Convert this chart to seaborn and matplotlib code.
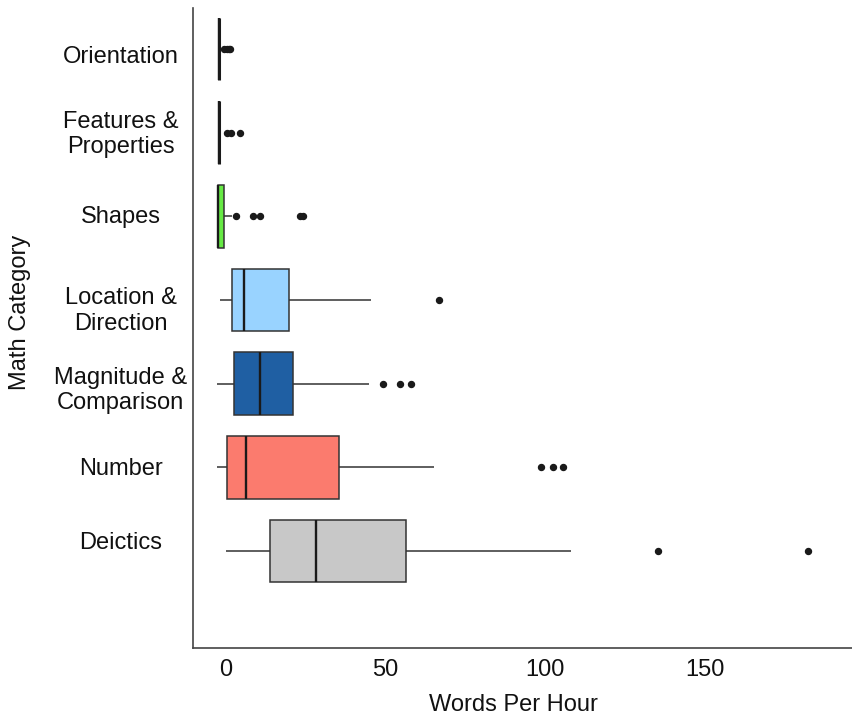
import numpy as np
import pandas as pd
import matplotlib.pyplot as plt
import seaborn as sns

# categories (top to bottom) and box colours
categories = ["Orientation", "Features &\nProperties", "Shapes", "Location &\nDirection",
              "Magnitude &\nComparison", "Number", "Deictics"]
colors = ["#222222", "#222222", "#66ea44", "#99d3ff", "#1f5fa3", "#fb7b6e", "#c8c8c8"]

# words per hour
orientation = [-2.0, -2.0, -2.0, -2.0, -2.0, -2.0, -2.0, -2.0, -2.0, -2.0, -2.0, -2.0, -2.0,
               -0.6, 0.3, 1.0, 1.5]
features = [-2.0, -2.0, -2.0, -2.0, -2.0, -2.0, -2.0, -2.0, -2.0, -2.0,
            0.4, 1.6, 4.5]
shapes = [-2.5, -2.5, -2.5, -2.5, -2.5, -2.5, -2.5, -2.5, -2.5, -2.5, -2.5, -2.5, -2.5,
          -2.0, -1.6, -1.2, -0.9, -0.7, -0.5, 2.0, 3.4, 8.7, 10.8, 23.3, 24.2]
location = [-1.7, 0.0, 2.0, 4.0, 5.8, 12.0, 20.0, 45.5, 66.8]
magnitude = [-2.6, -1.0, 0.0, 1.5, 2.5, 5.0, 7.0, 9.0, 10.7, 13.0, 16.0, 19.0, 21.0,
             44.9, 49.3, 54.6, 58.0]
number = [-2.8, -1.5, -0.5, 0.0, 0.4, 2.0, 3.5, 5.0, 6.4, 10.0, 16.0, 25.0, 35.4,
          65.4, 98.7, 102.7, 105.6]
deictics = [0.0, 5.0, 10.0, 13.9, 20.0, 25.0, 28.3, 40.0, 50.0, 56.4, 108.2, 135.5, 182.4]

# where the category labels sit (slightly off the box centres, as in the original)
label_pos = [0.07, 0.97, 1.98, 3.08, 4.03, 4.99, 5.87]

series = [orientation, features, shapes, location, magnitude, number, deictics]
rows = []
for cat, vals in zip(categories, series):
    for v in vals:
        rows.append({"category": cat, "wph": v})
df = pd.DataFrame(rows)

sns.set_style("white")
plt.rcParams['font.family'] = ['Liberation Sans', 'DejaVu Sans']

fig = plt.figure(figsize=(8.53, 7.19), dpi=100)
ax = fig.add_axes([193 / 853, 71 / 719, 660 / 853, 640 / 719])

sns.boxplot(data=df, x="wph", y="category", hue="category", order=categories,
            hue_order=categories, palette=colors, saturation=1, legend=False, orient="h",
            width=0.75, linewidth=1.1, linecolor="#333333", whis=1.5,
            showcaps=False, fliersize=4.3,
            flierprops=dict(marker="o", markerfacecolor="#1a1a1a", markeredgecolor="#1a1a1a"),
            medianprops=dict(color="#1a1a1a", linewidth=1.7),
            whiskerprops=dict(color="#333333", linewidth=1.1),
            ax=ax)

# the two flat boxes show as a thick black bar
for i in [0, 1]:
    ax.patches[i].set_linewidth(2.2)
    ax.patches[i].set_edgecolor("#1a1a1a")

ax.set_xlim(-10.2, 196.5)
ax.set_ylim(7.16, -0.49)
ax.set_xticks([0, 50, 100, 150])
ax.set_yticks(label_pos)
ax.set_yticklabels(categories)
for lbl in ax.get_yticklabels():
    lbl.set_ha("center")
    lbl.set_multialignment("center")
ax.tick_params(axis="y", length=0, pad=52, labelsize=17, labelcolor="#111111")
ax.tick_params(axis="x", length=5, width=1, color="#444444", pad=3,
               labelsize=17, labelcolor="#111111")

for s in ["top", "right"]:
    ax.spines[s].set_visible(False)
for s in ["left", "bottom"]:
    ax.spines[s].set_color("#444444")
    ax.spines[s].set_linewidth(1.2)

ax.set_xlabel("Words Per Hour", fontsize=17, color="#111111")
ax.set_ylabel("Math Category", fontsize=17, color="#111111")
ax.xaxis.set_label_coords(0.485, -0.072)
ax.yaxis.set_label_coords(-0.245, 0.525)

plt.savefig("out.png", dpi=100)
